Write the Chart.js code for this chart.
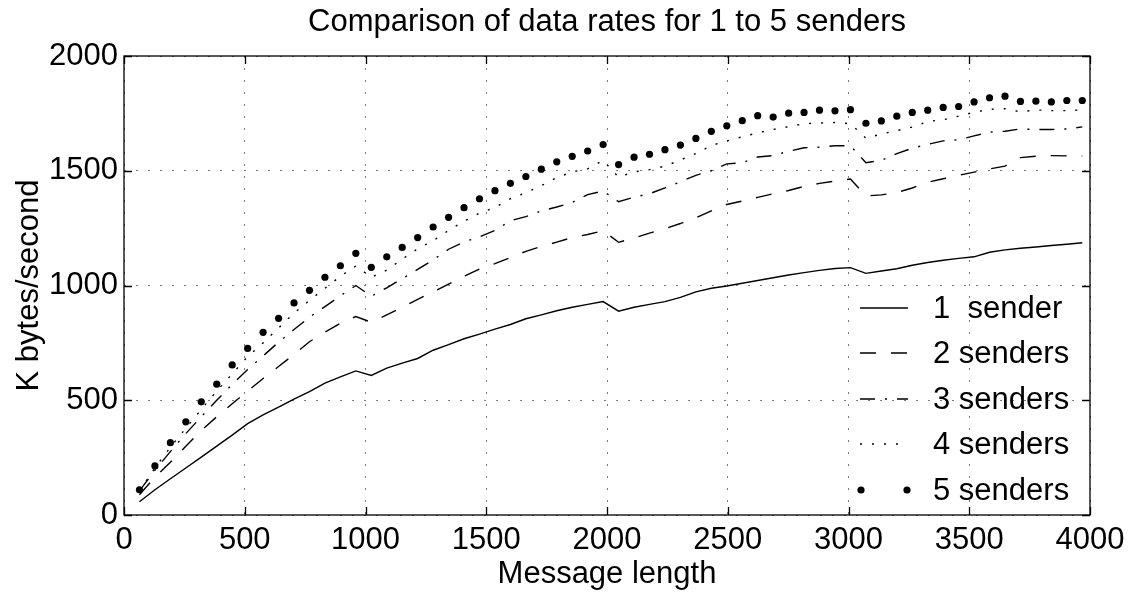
<!DOCTYPE html>
<html>
<head>
<meta charset="utf-8">
<script src="https://cdn.jsdelivr.net/npm/chart.js@4.4.1/dist/chart.umd.min.js"></script>
<style>
html,body{margin:0;padding:0;background:#fff;}
#wrap{width:1132px;height:594px;}
</style>
</head>
<body>
<div id="wrap"><canvas id="c" width="1132" height="594"></canvas></div>
<script>
// ---- data ----
const messageLength = [64,128,192,256,320,384,448,512,576,640,704,768,832,896,960,1024,1088,1152,1216,1280,1344,1408,1472,1536,1600,1664,1728,1792,1856,1920,1984,2048,2112,2176,2240,2304,2368,2432,2496,2560,2624,2688,2752,2816,2880,2944,3008,3072,3136,3200,3264,3328,3392,3456,3520,3584,3648,3712,3776,3840,3904,3968];

const sender1 = [58,110,158,205,252,300,348,398,436,470,505,538,575,602,628,608,640,662,682,718,742,768,788,810,830,855,872,890,905,918,930,888,905,918,930,948,972,988,998,1010,1022,1034,1046,1056,1066,1074,1078,1053,1063,1073,1088,1100,1110,1118,1125,1145,1155,1162,1168,1174,1180,1186];

const senders2 = [88,165,230,300,368,428,485,540,595,647,700,755,797,835,865,840,872,905,940,972,1006,1040,1072,1095,1122,1149,1170,1189,1209,1222,1239,1188,1207,1228,1248,1270,1295,1325,1353,1368,1384,1400,1414,1432,1445,1455,1464,1390,1395,1405,1425,1450,1465,1480,1494,1508,1520,1557,1563,1566,1565,1564];

const senders3 = [105,195,276,355,428,500,569,634,693,753,808,862,908,955,1000,953,990,1030,1070,1112,1158,1190,1212,1240,1282,1300,1325,1342,1362,1396,1412,1365,1385,1400,1425,1452,1480,1500,1530,1535,1560,1566,1585,1600,1603,1609,1609,1535,1545,1575,1598,1615,1630,1635,1652,1668,1672,1682,1680,1680,1682,1691];

const senders4 = [105,205,295,378,460,540,615,690,750,815,880,935,988,1040,1085,1036,1067,1115,1160,1195,1240,1280,1315,1340,1378,1405,1435,1470,1495,1508,1545,1472,1495,1505,1520,1547,1575,1610,1630,1648,1665,1680,1692,1705,1708,1710,1705,1642,1660,1675,1690,1715,1722,1738,1755,1768,1770,1757,1765,1762,1762,1765];

const senders5 = [110,214,315,406,493,570,654,726,796,857,924,979,1036,1086,1140,1079,1125,1166,1209,1255,1297,1339,1378,1413,1445,1475,1507,1539,1563,1586,1614,1527,1559,1572,1592,1612,1641,1672,1696,1718,1740,1734,1751,1754,1764,1761,1766,1707,1717,1738,1754,1764,1776,1780,1800,1818,1825,1802,1803,1800,1806,1806];

const seriesLabels = ['1  sender','2 senders','3 senders','4 senders','5 senders'];
const xTicks = [0,500,1000,1500,2000,2500,3000,3500,4000];
const yTicks = [0,500,1000,1500,2000];
const chartTitle = 'Comparison of data rates for 1 to 5 senders';
const xTitle = 'Message length';
const yTitle = 'K bytes/second';

// ---- styling ----
const FONT = "'Liberation Sans', Arial, Helvetica, sans-serif";
const FS = 31;
Chart.defaults.font.family = FONT;
Chart.defaults.color = '#000';

const LW = 1.4;
const dashes = [[], [16,15], [15,10,2,10], [2,10]];

function pts(arr){ return messageLength.map((x,i)=>({x:x, y:arr[i]})); }

const lineSeries = [sender1, senders2, senders3, senders4];
const datasets = lineSeries.map((arr,i)=>({
  label: seriesLabels[i],
  data: pts(arr),
  borderColor:'#000',
  borderWidth: LW,
  borderDash: dashes[i],
  borderCapStyle:'butt',
  pointRadius:0,
  pointHoverRadius:0,
  fill:false,
  tension:0
}));
datasets.push({
  label: seriesLabels[4],
  data: pts(senders5),
  showLine:false,
  pointRadius:3.6,
  pointHoverRadius:3.6,
  pointBackgroundColor:'#000',
  pointBorderWidth:0,
  borderColor:'#000'
});

const framePlugin = {
  id:'frame',
  afterDraw(chart){
    const {ctx, chartArea:a, scales:{x,y}} = chart;
    ctx.save();
    ctx.strokeStyle = '#000';
    ctx.lineWidth = 1.3;
    ctx.setLineDash([]);
    ctx.strokeRect(a.left, a.top, a.right-a.left, a.bottom-a.top);
    const T = 8;
    ctx.beginPath();
    xTicks.forEach(v=>{
      const px = Math.round(x.getPixelForValue(v))+0.5;
      ctx.moveTo(px, a.bottom); ctx.lineTo(px, a.bottom-T);
      ctx.moveTo(px, a.top); ctx.lineTo(px, a.top+T);
    });
    yTicks.forEach(v=>{
      const py = Math.round(y.getPixelForValue(v))+0.5;
      ctx.moveTo(a.left, py); ctx.lineTo(a.left+T, py);
      ctx.moveTo(a.right, py); ctx.lineTo(a.right-T, py);
    });
    ctx.stroke();

    // legend inside plot
    const rowY = [308,353,399,444,490];
    const x0 = 860, x1 = 908, tx = 933;
    ctx.font = FS + 'px ' + FONT;
    ctx.fillStyle = '#000';
    ctx.textBaseline = 'middle';
    ctx.textAlign = 'left';
    for (let i=0;i<5;i++){
      const yy = rowY[i];
      if (i<4){
        ctx.lineWidth = LW;
        ctx.setLineDash(dashes[i]);
        ctx.beginPath(); ctx.moveTo(x0, yy); ctx.lineTo(x1, yy); ctx.stroke();
        ctx.setLineDash([]);
      } else {
        [x0+1, x1-1].forEach(px=>{ ctx.beginPath(); ctx.arc(px, yy, 3.6, 0, Math.PI*2); ctx.fill(); });
      }
      ctx.fillText(seriesLabels[i], tx, yy+1);
    }
    ctx.restore();
  }
};

new Chart(document.getElementById('c'), {
  type:'line',
  data:{datasets},
  plugins:[framePlugin],
  options:{
    responsive:false,
    animation:false,
    events:[],
    layout:{padding:{left:0,right:42,top:0,bottom:0}},
    plugins:{
      legend:{display:false},
      tooltip:{enabled:false},
      title:{display:true, fullSize:false, text:chartTitle, color:'#000', font:{size:FS, weight:'normal', family:FONT}, padding:{top:4,bottom:14.8}}
    },
    scales:{
      x:{
        type:'linear', min:0, max:4000,
        afterBuildTicks:(s)=>{ s.ticks = xTicks.map(v=>({value:v})); },
        afterFit:(s)=>{ s.height = 79; },
        grid:{color:'#7a7a7a', lineWidth:1, drawTicks:false},
        border:{display:false, dash:[2,10]},
        ticks:{font:{size:FS}, padding:7, maxRotation:0, autoSkip:false, color:'#000', callback:(v)=>String(v)},
        title:{display:true, text:xTitle, font:{size:FS}, color:'#000', padding:{top:0,bottom:1}}
      },
      y:{
        type:'linear', min:0, max:2000,
        afterBuildTicks:(s)=>{ s.ticks = yTicks.map(v=>({value:v})); },
        afterFit:(s)=>{ s.width = 124; },
        grid:{color:'#7a7a7a', lineWidth:1, drawTicks:false},
        border:{display:false, dash:[2,10]},
        ticks:{font:{size:FS}, padding:6, color:'#000', callback:(v)=>String(v)},
        title:{display:true, text:yTitle, font:{size:FS}, color:'#000', padding:{top:11,bottom:0}}
      }
    }
  }
});
</script>
</body>
</html>
